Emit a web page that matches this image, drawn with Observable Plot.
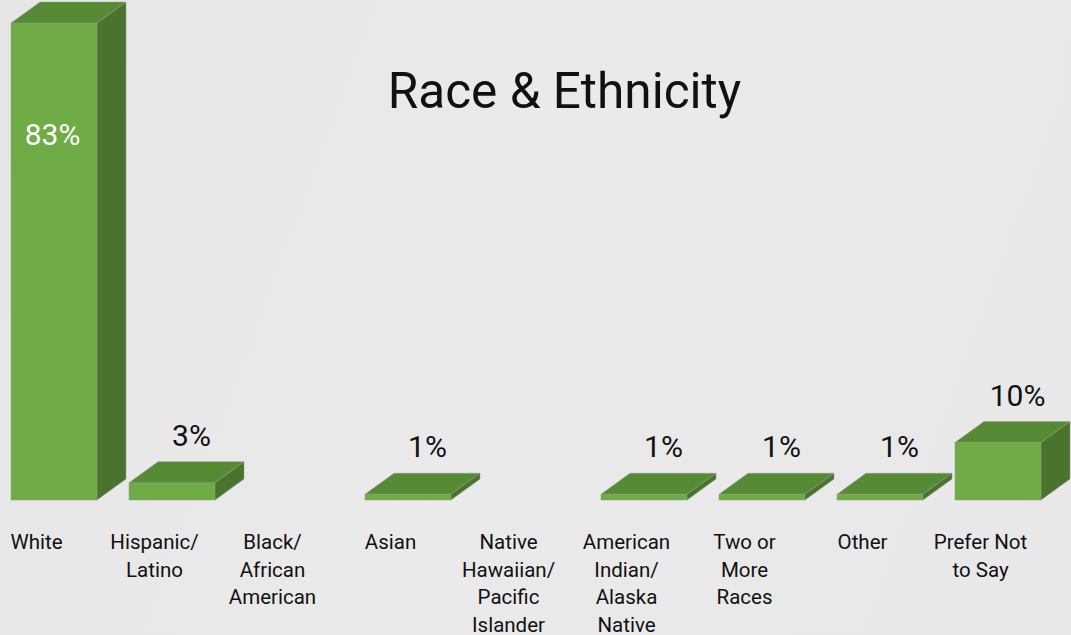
<!DOCTYPE html>
<html><head><meta charset="utf-8">
<script src="https://cdn.jsdelivr.net/npm/d3@7"></script>
<script src="https://cdn.jsdelivr.net/npm/@observablehq/plot@0.6"></script>
<style>
html,body{margin:0;padding:0;background:#e8e8e8;}
#chart{width:1071px;height:635px;background:linear-gradient(110deg,#e6e6e6 0%,#eaeaea 45%,#e8e8e8 100%);}
</style></head><body><div id="chart"></div>
<script>
const categories = ["White","Hispanic/\nLatino","Black/\nAfrican\nAmerican","Asian","Native\nHawaiian/\nPacific\nIslander","American\nIndian/\nAlaska\nNative","Two or\nMore\nRaces","Other","Prefer Not\nto Say"];
const values = [83,3,0,1,0,1,1,1,10];
const valueLabels = ["83%","3%","","1%","","1%","1%","1%","10%"];
const title = "Race & Ethnicity";

const data = categories.map((c,i)=>({category:c, value:values[i], label:valueLabels[i]}));
const bars = data.filter(d=>d.value>0);
const colors = {front:"#6fac46", top:"#578a34", side:"#4a732d", edge:"#8fa088"};
const depth = {dx:29, dy:21};

function faces(index, scales, channels, dimensions, context){
  const g = d3.create("svg:g");
  const x = scales.x, y = scales.y;
  const bw = typeof x.bandwidth === "function" ? x.bandwidth() : x.bandwidth;
  const {dx, dy} = depth;
  for (const d of bars) {
    const x1 = x(d.category), x2 = x1 + bw, yt = y(d.value), yb = y(0);
    g.append("path")
      .attr("d", `M${x1},${yt}L${x2},${yt}L${x2+dx},${yt-dy}L${x1+dx},${yt-dy}Z`)
      .attr("fill", colors.top).attr("stroke", colors.edge).attr("stroke-width", 0.5);
    g.append("path")
      .attr("d", `M${x2},${yt}L${x2+dx},${yt-dy}L${x2+dx},${yb-dy}L${x2},${yb}Z`)
      .attr("fill", colors.side).attr("stroke", colors.edge).attr("stroke-width", 0.5);
  }
  return g.node();
}

const chart = Plot.plot({
  width:1071, height:635,
  marginTop:23, marginBottom:135, marginLeft:9, marginRight:28,
  x:{domain:categories, paddingInner:0.274, paddingOuter:0, axis:null},
  y:{domain:[0,83], axis:null},
  style:{background:"transparent", fontFamily:"Roboto, sans-serif", overflow:"visible"},
  marks:[
    Plot.barY(bars,{x:"category", y:"value", fill:colors.front, stroke:colors.edge, strokeWidth:0.5}),
    faces,
    Plot.text(data,{x:"category", y:0, text:"category", dx:-18, dy:29, lineAnchor:"top", fontSize:20.5, lineHeight:1.35, fill:"#111"}),
    Plot.text(bars.filter(d=>d.value<50), {x:"category", y:"value", text:"label", dx:19, dy:-47, fontSize:30, fill:"#111"}),
    Plot.text(bars.filter(d=>d.value>=50), {x:"category", y:"value", text:"label", dx:-2, dy:112, fontSize:30, fill:"white"}),
    Plot.text([title], {frameAnchor:"top", dx:38, dy:49, fontSize:49.5, fill:"#111"})
  ]
});
document.getElementById("chart").appendChild(chart);
</script></body></html>
